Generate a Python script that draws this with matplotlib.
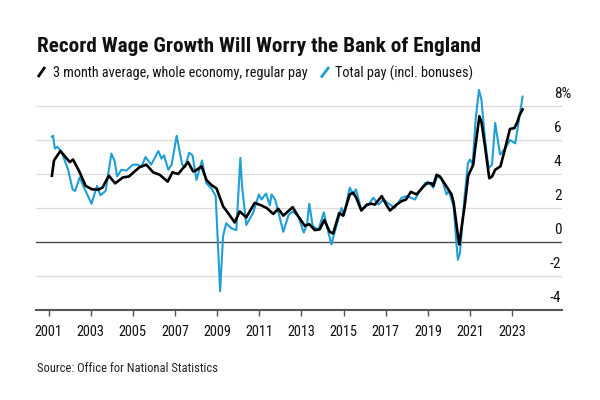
import matplotlib
matplotlib.use("Agg")
import matplotlib.pyplot as plt
from matplotlib import font_manager
from matplotlib.lines import Line2D
from matplotlib.transforms import ScaledTranslation

# DATA (decimal years / % y/y)
regular_years = [
    2001.16, 2001.26, 2001.56, 2002.01, 2002.16, 2002.46, 2002.76, 2003.06, 2003.36, 2003.56,
    2003.86, 2004.16, 2004.53, 2004.81, 2005.08, 2005.32, 2005.64, 2005.96, 2006.28, 2006.65,
    2006.88, 2007.15, 2007.62, 2007.86, 2007.98, 2008.26, 2008.49, 2008.73, 2008.97, 2009.28,
    2009.52, 2009.83, 2010.07, 2010.38, 2010.78, 2011.10, 2011.35, 2011.66, 2011.90, 2012.14,
    2012.58, 2012.85, 2013.16, 2013.37, 2013.63, 2013.87, 2014.08, 2014.34, 2014.50, 2014.79,
    2014.98, 2015.29, 2015.45, 2015.60, 2015.84, 2016.10, 2016.32, 2016.48, 2016.81, 2017.02,
    2017.20, 2017.51, 2017.75, 2017.96, 2018.19, 2018.46, 2018.78, 2018.94, 2019.18, 2019.25,
    2019.41, 2019.57, 2019.81, 2020.12, 2020.22, 2020.43, 2020.49, 2020.60, 2020.76, 2020.91,
    2021.15, 2021.24, 2021.44, 2021.54, 2021.71, 2021.91, 2022.04, 2022.19, 2022.44, 2022.64,
    2022.89, 2023.10, 2023.24, 2023.34, 2023.49,
]
regular_pay = [
    3.9, 4.8, 5.35, 4.7, 4.85, 4.15, 3.3, 3.1, 3.08, 3.2,
    3.9, 3.45, 3.8, 3.85, 4.15, 4.4, 4.55, 4.1, 3.95, 3.55,
    4.1, 4.0, 4.7, 4.15, 4.2, 4.45, 3.65, 3.35, 3.15, 2.1,
    1.7, 1.15, 1.8, 1.45, 2.3, 2.15, 2.0, 1.65, 1.95, 1.55,
    2.05, 1.5, 0.95, 1.05, 0.7, 0.75, 1.3, 0.6, 0.5, 1.7,
    1.55, 2.8, 2.9, 2.6, 1.85, 2.2, 2.25, 2.2, 2.7, 2.2,
    1.85, 2.2, 2.4, 2.5, 2.95, 2.8, 3.25, 3.45, 3.45, 3.3,
    3.95, 3.85, 3.4, 2.8, 2.3, 0.3, -0.15, 0.9, 2.3, 3.9,
    4.55, 5.5, 7.4, 7.05, 5.6, 3.75, 3.85, 4.25, 4.45, 5.4,
    6.65, 6.7, 7.05, 7.45, 7.8,
]

total_years = [
    2001.16, 2001.21, 2001.30, 2001.42, 2001.62, 2001.93, 2002.14, 2002.26, 2002.48, 2002.72,
    2003.04, 2003.30, 2003.46, 2003.71, 2003.98, 2004.14, 2004.25, 2004.46, 2004.69, 2005.00,
    2005.24, 2005.40, 2005.60, 2005.87, 2006.21, 2006.36, 2006.48, 2006.68, 2006.84, 2007.08,
    2007.34, 2007.48, 2007.67, 2007.83, 2008.02, 2008.28, 2008.49, 2008.73, 2008.93, 2009.04,
    2009.14, 2009.28, 2009.43, 2009.68, 2009.91, 2010.10, 2010.18, 2010.38, 2010.70, 2010.98,
    2011.10, 2011.32, 2011.50, 2011.58, 2011.75, 2012.14, 2012.39, 2012.58, 2012.85, 2013.11,
    2013.27, 2013.37, 2013.53, 2013.80, 2014.06, 2014.20, 2014.42, 2014.50, 2014.90, 2015.02,
    2015.29, 2015.45, 2015.58, 2015.84, 2016.18, 2016.41, 2016.65, 2016.89, 2017.20, 2017.42,
    2017.75, 2017.99, 2018.39, 2018.55, 2018.86, 2019.02, 2019.25, 2019.44, 2019.65, 2019.88,
    2019.99, 2020.22, 2020.35, 2020.42, 2020.52, 2020.74, 2020.90, 2021.00, 2021.12, 2021.26,
    2021.42, 2021.54, 2021.71, 2021.87, 2022.04, 2022.19, 2022.42, 2022.64, 2022.89, 2023.14,
    2023.37, 2023.49,
]
total_pay = [
    6.2, 6.25, 5.5, 5.6, 5.3, 4.25, 3.1, 3.0, 3.8, 3.1,
    2.25, 3.3, 2.75, 3.0, 5.2, 4.75, 3.85, 4.25, 4.2, 4.55,
    4.55, 4.4, 5.0, 4.55, 5.35, 4.9, 5.1, 4.25, 4.55, 6.25,
    4.55, 4.4, 5.25, 5.1, 3.65, 4.8, 3.45, 3.15, 2.7, -0.25,
    -2.9, 0.35, 1.1, 0.8, 0.7, 4.95, 3.3, 1.0, 1.7, 2.8,
    2.5, 2.85, 2.15, 2.8, 2.5, 0.6, 1.6, 1.8, 1.5, 0.55,
    1.1, 2.25, 0.95, 0.7, 1.75, 0.95, -0.15, 0.25, 2.0, 1.6,
    3.2, 2.8, 3.1, 1.9, 2.2, 2.6, 2.2, 2.5, 2.2, 2.0,
    2.6, 2.7, 2.5, 2.9, 3.45, 3.55, 3.2, 3.85, 3.75, 2.8,
    3.0, 2.1, -0.05, -1.05, -0.65, 2.7, 4.65, 4.85, 4.55, 7.2,
    8.95, 8.35, 6.0, 4.35, 4.55, 7.0, 5.15, 5.45, 6.0, 5.8,
    7.6, 8.55,
]

year_ticks = list(range(2001, 2024, 2))
y_ticks = [-4, -2, 0, 2, 4, 6, 8]
y_labels = ["-4", "-2", "0", "2", "4", "6", "8%"]

title = "Record Wage Growth Will Worry the Bank of England"
label_regular = "3 month average, whole economy, regular pay"
label_total = "Total pay (incl. bonuses)"
source = "Source: Office for National Statistics"

BLUE = "#1f9ed8"

# a narrow face looks closest; fall back to smaller Liberation Sans
installed = {f.name for f in font_manager.fontManager.ttflist}
if "Roboto Condensed" in installed:
    FONT, k = ["Roboto Condensed", "DejaVu Sans"], 1.0
elif "Liberation Sans Narrow" in installed:
    FONT, k = ["Liberation Sans Narrow", "DejaVu Sans"], 1.0
else:
    FONT, k = ["Liberation Sans", "DejaVu Sans"], 0.82
plt.rcParams["font.family"] = FONT

W, H = 600, 400
fig = plt.figure(figsize=(6, 4), dpi=100)
ax = fig.add_axes([36 / W, 1 - 310 / H, (562 - 36) / W, (310 - 89) / H])

ax.plot(total_years, total_pay, color=BLUE, lw=1.5, solid_joinstyle="round", zorder=3)
ax.plot(regular_years, regular_pay, color="black", lw=1.9, solid_joinstyle="round", zorder=4)

ax.set_xlim(2000.405, 2025.36)
ax.set_ylim(-4, 9)

# grid
for v in y_ticks:
    if v == 0:
        ax.axhline(v, color="#4a4a4a", lw=1.0, zorder=2)
    elif v != -4:
        ax.axhline(v, color="#dcdcdc", lw=0.9, zorder=1)

for s in ["top", "left", "right"]:
    ax.spines[s].set_visible(False)
ax.spines["bottom"].set_color("#555555")
ax.spines["bottom"].set_linewidth(1.5)

ax.set_xticks(year_ticks)
ax.set_xticklabels([str(y) for y in year_ticks])
ax.tick_params(axis="x", length=4.5, width=1.0, color="#555555", pad=6,
               labelsize=10.3 * k, labelcolor="#111111")

ax.yaxis.tick_right()
ax.set_yticks(y_ticks)
ax.set_yticklabels(y_labels)
ax.tick_params(axis="y", length=0, pad=0, labelsize=11 * k, labelcolor="#111111")
for lab in ax.get_yticklabels():
    dx = -12 if lab.get_text().startswith("-") else -8
    lab.set_transform(lab.get_transform() + ScaledTranslation(dx / 100, 13 / 100, fig.dpi_scale_trans))
    lab.set_horizontalalignment("left")

# title, legend, source
fig.text(37 / W, 1 - 52 / H, title, fontsize=15.3 * k, fontweight="bold", va="baseline", color="#111111")
fig.add_artist(Line2D([38 / W, 45 / W], [1 - 77 / H, 1 - 67 / H], color="black", lw=2,
                      transform=fig.transFigure, solid_capstyle="butt"))
fig.text(53 / W, 1 - 77.5 / H, label_regular, fontsize=10.3 * k, va="baseline", color="#111111")
fig.add_artist(Line2D([321 / W, 329 / W], [1 - 77.5 / H, 1 - 67 / H], color=BLUE, lw=2,
                      transform=fig.transFigure, solid_capstyle="butt"))
fig.text(335 / W, 1 - 77.5 / H, label_total, fontsize=10.3 * k, va="baseline", color="#111111")
fig.text(37 / W, 1 - 372 / H, source, fontsize=9.0 * k, va="baseline", color="#222222")

fig.savefig("out.png", dpi=100, facecolor="white")
